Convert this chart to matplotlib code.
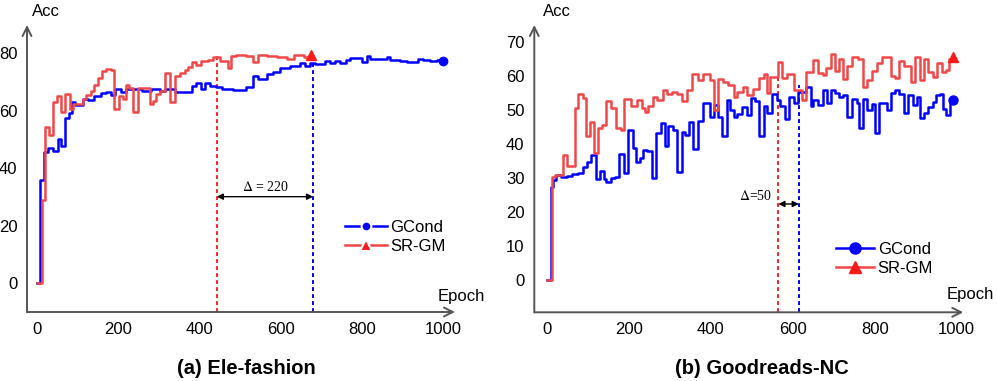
import matplotlib.pyplot as plt
from matplotlib import font_manager
from matplotlib.lines import Line2D

# ---- data: (a) Ele-fashion ----
ele_gcond_epoch = [0, 9, 19, 28, 40, 52, 60, 70, 80, 86, 95, 113, 125, 142, 158, 171, 183, 193, 207,
                   220, 260, 280, 302, 315, 339, 381, 393, 405, 414, 426, 440, 455, 482, 516, 533, 545,
                   566, 582, 599, 624, 648, 660, 672, 684, 709, 721, 734, 746, 762, 771, 799, 812, 820,
                   861, 869, 894, 910, 939, 951, 967, 984, 1000]
ele_gcond_acc = [0, 36, 45.6, 47, 46, 50, 47.7, 57.5, 59.3, 63, 62, 64, 63.6, 65.2, 66, 66.5, 65.4, 67.4, 66.5,
                 67.5, 67, 67.6, 67, 67.4, 66.5, 68.7, 69.8, 67.4, 69.5, 68.7, 68.4, 67.4, 67.2, 68.1, 72, 70.9,
                 72.6, 73.6, 75, 75.5, 76.5, 75.6, 76.5, 76.3, 77.4, 76.5, 77.4, 76.6, 77.7, 78.3, 76.8, 79, 78,
                 78.8, 77.8, 77.4, 77, 78, 77.7, 77.3, 77.7, 77.4]

ele_srgm_epoch = [0, 12, 20, 31, 41, 50, 60, 70, 82, 88, 113, 121, 134, 142, 150, 161, 171, 183, 191, 202,
                  212, 220, 228, 238, 250, 278, 286, 294, 302, 315, 327, 339, 352, 364, 372, 381, 393, 405,
                  422, 434, 451, 470, 478, 490, 516, 533, 545, 566, 590, 615, 632, 657, 675]
ele_srgm_acc = [0, 28.8, 54.5, 51.5, 63, 65, 59.5, 65.8, 60.5, 62.5, 64, 65.5, 67, 69, 71.5, 73.8, 74.5, 74.2,
                60.5, 65, 64, 69, 68, 59.5, 68, 62.3, 63.4, 65.8, 66.8, 73, 63, 72, 73, 74, 75.2, 77, 76,
                77.2, 77.5, 78.7, 77.2, 75, 79, 79.3, 79, 76.8, 79.3, 79, 78.6, 78, 79.4, 78.8, 79.2]

ele_mark_srgm, ele_mark_gcond = 443, 680
ele_delta_label = r"$\Delta$ = 220"

# ---- data: (b) Goodreads-NC ----
gr_gcond_epoch = [0, 10, 16, 24, 36, 49, 61, 77, 89, 98, 108, 120, 130, 139, 146, 156, 167, 177, 189, 199,
                  210, 218, 228, 236, 246, 257, 267, 279, 289, 297, 308, 317, 330, 338, 348, 358, 370, 382,
                  398, 408, 418, 427, 439, 447, 456, 465, 476, 488, 498, 508, 517, 529, 537, 549, 561, 569,
                  581, 592, 603, 614, 632, 644, 650, 662, 673, 683, 693, 703, 714, 723, 733, 744, 756, 762,
                  772, 782, 793, 801, 811, 829, 839, 849, 860, 871, 882, 893, 902, 910, 920, 931, 941, 949,
                  959, 967, 975, 984, 990]
gr_gcond_acc = [0, 27.5, 29.5, 31, 30.4, 30.7, 31.2, 31.4, 33.4, 34.9, 36.8, 29.8, 32.2, 29.8, 29, 30, 30.4,
                37.1, 31.6, 44.2, 38.8, 34.9, 35.8, 38.3, 38, 30.1, 43.2, 46.1, 39.6, 45.3, 44.2, 31.7, 43.7,
                42.7, 46.6, 38.5, 46.9, 52, 47.9, 51.5, 47.9, 42.4, 53, 50, 48, 49, 51, 48.5, 53.5, 52.8, 42.4,
                51.2, 49.3, 54.7, 53, 51.2, 47.3, 54, 52, 55.4, 56.7, 51.2, 53, 51.5, 56.1, 52.2, 56.1, 55.1,
                54, 54.5, 48.1, 53.2, 52, 44.7, 53.2, 50.2, 51.8, 43.4, 52.2, 50.2, 55.1, 55.9, 54.9, 49.1,
                54.5, 51.5, 54, 47.6, 49.1, 51, 52.5, 54.5, 54.7, 50.5, 48.6, 53, 53]

gr_srgm_epoch = [0, 12, 20, 41, 49, 69, 77, 89, 96, 106, 116, 126, 134, 146, 158, 169, 181, 189, 205, 220,
                 232, 240, 248, 260, 270, 284, 293, 305, 317, 330, 342, 354, 370, 382, 398, 407, 417, 431,
                 443, 456, 464, 480, 488, 504, 517, 529, 537, 545, 565, 575, 585, 602, 622, 632, 650, 662,
                 673, 681, 693, 703, 714, 723, 733, 744, 760, 772, 782, 793, 805, 817, 839, 849, 860, 871,
                 888, 898, 910, 920, 931, 941, 951, 963, 973, 980, 990]
gr_srgm_acc = [0, 30.2, 31, 36.8, 33.5, 50.8, 54.8, 53.5, 42.4, 46.6, 37.3, 44.7, 45.6, 52.7, 50.8, 44.7, 44.2,
               53.2, 51.2, 53, 50.8, 49.6, 51.2, 54, 53, 56.1, 54.8, 55.4, 54.7, 52.8, 56, 60.6, 58.9, 60.6,
               58.9, 50, 59.2, 58.2, 57.4, 54, 55.4, 56.7, 54.5, 56.4, 59.4, 60.8, 55.1, 59.7, 64.3, 59.4,
               60.8, 55.9, 53, 61.3, 64.8, 61, 60.3, 62.3, 66.7, 61.5, 65.2, 59.2, 63, 65.7, 65, 56.7, 58.9,
               61.5, 64, 65.7, 60, 59.6, 64.6, 63.1, 58.4, 65.7, 58.9, 65.2, 61.3, 59.9, 64, 61.3, 61.8,
               65.2, 65.7]

gr_mark_srgm, gr_mark_gcond = 565, 615
gr_delta_label = r"$\Delta$=50"

BLUE = "#0000ff"
RED = "#f04848"
RED_MK = "#ff1a1a"
AXC = "#555555"

names = {f.name for f in font_manager.fontManager.ttflist}
sans = "Liberation Sans" if "Liberation Sans" in names else "DejaVu Sans"
narrow = "Liberation Sans Narrow" if "Liberation Sans Narrow" in names else sans
serif = "Liberation Serif" if "Liberation Serif" in names else "DejaVu Serif"
plt.rcParams["font.family"] = sans
plt.rcParams["mathtext.fontset"] = "stix"

fig = plt.figure(figsize=(9.97, 3.81), dpi=100)
W, H = 997, 381


def px_axes(l, r, b, t):
    return fig.add_axes([l / W, (H - b) / H, (r - l) / W, (b - t) / H])


def arrow_axes(ax):
    for s in ax.spines.values():
        s.set_visible(False)
    kw = dict(arrowstyle="->", color=AXC, lw=1.4, mutation_scale=16, shrinkA=0, shrinkB=0)
    ax.annotate("", xy=(1, 0), xytext=(0, 0), xycoords="axes fraction", arrowprops=kw, annotation_clip=False)
    ax.annotate("", xy=(0, 1), xytext=(0, 0), xycoords="axes fraction", arrowprops=kw, annotation_clip=False)
    ax.tick_params(length=0, labelsize=12, pad=7)


def draw_panel(ax, ge, ga, se, sa, m_s, m_g, top_s, top_g, ylo, yarr, dlabel, dtext_xy, dtext_ha,
               ms_tri, ms_circ):
    ax.plot(ge, ga, color=BLUE, lw=1.8, drawstyle="steps-post", zorder=3)
    ax.plot(se, sa, color=RED, lw=1.8, drawstyle="steps-post", zorder=4)
    ax.plot(ge[-1], ga[-1], "o", color=BLUE, ms=ms_circ, zorder=5)
    ax.plot(se[-1], sa[-1], "^", color=RED_MK, ms=ms_tri, zorder=5)
    ax.plot([m_s, m_s], [ylo, top_s], color="#ff2020", lw=1.4, ls=(0, (2, 1.6)), zorder=2)
    ax.plot([m_g, m_g], [ylo, top_g], color=BLUE, lw=1.4, ls=(0, (2, 1.6)), zorder=2)
    ax.annotate("", xy=(m_g, yarr), xytext=(m_s, yarr),
                arrowprops=dict(arrowstyle="<|-|>", color="black", lw=1.0, mutation_scale=9,
                                shrinkA=0, shrinkB=0))
    ax.text(dtext_xy[0], dtext_xy[1], dlabel, fontsize=10, family=serif, ha=dtext_ha, va="center")


# (a) Ele-fashion
ax1 = px_axes(27, 455, 312, 25)
ax1.set_xlim(-24, 1029)
ax1.set_ylim(-10, 89.8)
ax1.set_xticks([0, 200, 400, 600, 800, 1000])
ax1.set_yticks([0, 20, 40, 60, 80])
arrow_axes(ax1)
draw_panel(ax1, ele_gcond_epoch, ele_gcond_acc, ele_srgm_epoch, ele_srgm_acc,
           ele_mark_srgm, ele_mark_gcond, 79.2, 76.3, -10, 30.1, ele_delta_label,
           (562, 33.6), "center", 6.5, 6)
leg_a = [Line2D([], [], color=BLUE, lw=1.8, marker="o", ms=7, mec="white", mew=1.5),
         Line2D([], [], color=RED, lw=1.8, marker="^", mfc=RED_MK, ms=8, mec="white", mew=1.5)]
ax1.legend(leg_a, ["GCond", "SR-GM"], loc="center left", bbox_to_anchor=(345 / W, (H - 237) / H),
           bbox_transform=fig.transFigure, frameon=False, fontsize=12, handlelength=2.5,
           handletextpad=0.2, borderpad=0, borderaxespad=0, labelspacing=0.25)

# (b) Goodreads-NC
ax2 = px_axes(534.3, 963.3, 312.3, 25)
ax2.set_xlim(-30, 1016)
ax2.set_ylim(-9.5, 75.1)
ax2.set_xticks([0, 200, 400, 600, 800, 1000])
ax2.set_yticks([0, 10, 20, 30, 40, 50, 60, 70])
arrow_axes(ax2)
draw_panel(ax2, gr_gcond_epoch, gr_gcond_acc, gr_srgm_epoch, gr_srgm_acc,
           gr_mark_srgm, gr_mark_gcond, 59.8, 57.5, -9.5, 22.4, gr_delta_label,
           (550, 24.6), "right", 7, 6.5)
leg_b = [Line2D([], [], color=BLUE, lw=1.8, marker="o", ms=8),
         Line2D([], [], color=RED, lw=1.8, marker="^", mfc=RED_MK, mec=RED_MK, ms=8)]
ax2.legend(leg_b, ["GCond", "SR-GM"], loc="center left", bbox_to_anchor=(836 / W, (H - 259) / H),
           bbox_transform=fig.transFigure, frameon=False, fontsize=12, handlelength=2.3,
           handletextpad=0.2, borderpad=0, borderaxespad=0, labelspacing=0.25)

# axis names
for x, y, s in [(46, 12, "Acc"), (557, 12, "Acc")]:
    fig.text(x / W, (H - y) / H, s, fontsize=12, ha="center", va="center")
for x, y in [(438, 296), (947, 294)]:
    fig.text(x / W, (H - y) / H, "Epoch", fontsize=12, ha="left", va="center")

# panel captions
fig.text(246 / W, (H - 368) / H, "(a) Ele-fashion", fontsize=14.5, family=narrow, weight="bold",
         ha="center", va="center")
fig.text(762 / W, (H - 368) / H, "(b) Goodreads-NC", fontsize=14.5, family=narrow, weight="bold",
         ha="center", va="center")

fig.savefig("out.png", dpi=100)
